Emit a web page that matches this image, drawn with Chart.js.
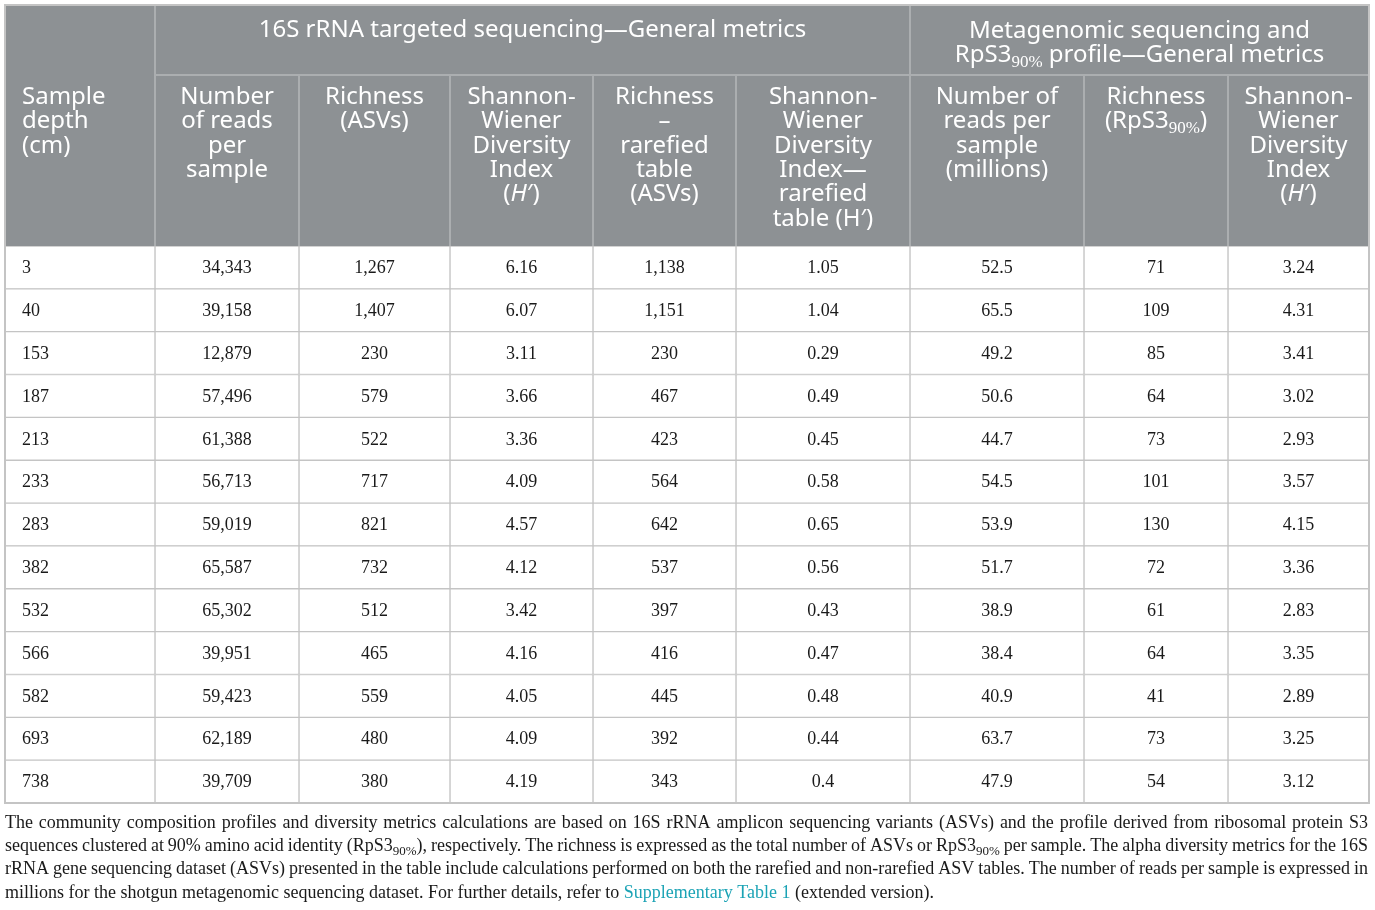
<!DOCTYPE html>
<html>
<head>
<meta charset="utf-8">
<script src="https://cdn.jsdelivr.net/npm/chart.js@4.4.1/dist/chart.umd.min.js"></script>
<style>
  html, body { margin: 0; padding: 0; background: #fff; }
  #wrap { width: 1375px; height: 910px; position: relative; }
</style>
</head>
<body>
<div id="wrap"><canvas id="tbl"></canvas></div>
<script>
// sample depth (cm) - one row each
const depths = ['3', '40', '153', '187', '213', '233', '283', '382', '532', '566', '582', '693', '738'];

// 16S rRNA targeted sequencing
const reads16S = [34343, 39158, 12879, 57496, 61388, 56713, 59019, 65587, 65302, 39951, 59423, 62189, 39709];
const richnessASV = [1267, 1407, 230, 579, 522, 717, 821, 732, 512, 465, 559, 480, 380];
const shannon16S = ['6.16', '6.07', '3.11', '3.66', '3.36', '4.09', '4.57', '4.12', '3.42', '4.16', '4.05', '4.09', '4.19'];
const richnessRare = [1138, 1151, 230, 467, 423, 564, 642, 537, 397, 416, 445, 392, 343];
const shannonRare = ['1.05', '1.04', '0.29', '0.49', '0.45', '0.58', '0.65', '0.56', '0.43', '0.47', '0.48', '0.44', '0.4'];

// metagenomic sequencing / RpS3 profile
const readsMeta = ['52.5', '65.5', '49.2', '50.6', '44.7', '54.5', '53.9', '51.7', '38.9', '38.4', '40.9', '63.7', '47.9'];
const richnessRps = [71, 109, 85, 64, 73, 101, 130, 72, 61, 64, 41, 73, 54];
const shannonMeta = ['3.24', '4.31', '3.41', '3.02', '2.93', '3.57', '4.15', '3.36', '2.83', '3.35', '2.89', '3.25', '3.12'];

// header labels (lines as set in the original), *x* = italic, _{x} = subscript
const colHeaders = [
  ['Sample', 'depth', '(cm)'],
  ['Number', 'of reads', 'per', 'sample'],
  ['Richness', '(ASVs)'],
  ['Shannon-', 'Wiener', 'Diversity', 'Index', '(*H*′)'],
  ['Richness', '–', 'rarefied', 'table', '(ASVs)'],
  ['Shannon-', 'Wiener', 'Diversity', 'Index—', 'rarefied', 'table (H′)'],
  ['Number of', 'reads per', 'sample', '(millions)'],
  ['Richness', '(RpS3_{90%})'],
  ['Shannon-', 'Wiener', 'Diversity', 'Index', '(*H*′)']
];
const groupHeaders = [
  { from: 1, to: 6, lines: ['16S rRNA targeted sequencing—General metrics'] },
  { from: 6, to: 9, lines: ['Metagenomic sequencing and', 'RpS3_{90%} profile—General metrics'] }
];

const footnote = [
  'The community composition profiles and diversity metrics calculations are based on 16S rRNA amplicon sequencing variants (ASVs) and the profile derived from ribosomal protein S3',
  'sequences clustered at 90% amino acid identity (RpS3_{90%}), respectively. The richness is expressed as the total number of ASVs or RpS3_{90%} per sample. The alpha diversity metrics for the 16S',
  'rRNA gene sequencing dataset (ASVs) presented in the table include calculations performed on both the rarefied and non-rarefied ASV tables. The number of reads per sample is expressed in',
  'millions for the shotgun metagenomic sequencing dataset. For further details, refer to ~Supplementary ~Table ~1 (extended version).'
];

// layout
const colEdges = [5, 155, 299, 450, 593, 736, 910, 1084, 1228, 1369];
const headTop = 5, headSplit = 75, headBottom = 246, tableBottom = 803;
const HEAD_BG = '#8d9194', HEAD_LINE = '#abaeb0', GRID = '#c4c4c4';
const SANS = '"Noto Sans", "Open Sans", sans-serif';
const SERIF = '"Liberation Serif", "DejaVu Serif", serif';

const fmt = (v) => (typeof v === 'number' ? v.toLocaleString('en-US') : v);
const columns = [depths, reads16S, richnessASV, shannon16S, richnessRare, shannonRare, readsMeta, richnessRps, shannonMeta];

// rich text: split into segments
function parseRich(str) {
  const parts = str.split(/(\*[^*]*\*|_\{[^}]*\})/).filter(s => s.length);
  return parts.map(p => {
    if (p[0] === '*') return { t: p.slice(1, -1), italic: true };
    if (p[0] === '_') return { t: p.slice(2, -1), sub: true };
    return { t: p };
  });
}
function segFont(seg, size, family) {
  if (seg.sub) return `${Math.round(size * 0.72)}px ${SERIF}`;
  return `${seg.italic ? 'italic ' : ''}${size}px ${family}`;
}
function richWidth(ctx, segs, size, family) {
  let w = 0;
  segs.forEach(s => { ctx.font = segFont(s, size, family); w += ctx.measureText(s.t).width; });
  return w;
}
function drawRich(ctx, str, x, y, size, family, align, color) {
  const segs = parseRich(str);
  const w = richWidth(ctx, segs, size, family);
  let cx = align === 'center' ? x - w / 2 : x;
  ctx.textAlign = 'left';
  ctx.textBaseline = 'middle';
  segs.forEach(s => {
    ctx.font = segFont(s, size, family);
    ctx.fillStyle = color;
    ctx.fillText(s.t, cx, s.sub ? y + size * 0.3 : y);
    cx += ctx.measureText(s.t).width;
  });
}
function footWords(line) {
  return line.split(' ').map(w => {
    const link = w[0] === '~';
    const segs = parseRich(link ? w.slice(1) : w);
    segs.forEach(s => { s.link = link; });
    return segs;
  });
}

const tablePlugin = {
  id: 'tablePlugin',
  beforeDatasetsDraw(chart) {
    const ctx = chart.ctx;
    const xs = chart.scales.x;
    const px = (e) => xs.getPixelForValue(e);
    ctx.save();
    // header block
    ctx.fillStyle = HEAD_BG;
    ctx.fillRect(px(colEdges[0]), headTop, px(colEdges[9]) - px(colEdges[0]), headBottom - headTop);
    ctx.strokeStyle = HEAD_LINE;
    ctx.lineWidth = 2;
    ctx.beginPath();
    ctx.moveTo(px(colEdges[1]), headSplit);
    ctx.lineTo(px(colEdges[9]), headSplit);
    colEdges.slice(1, 9).forEach((e, i) => {
      const full = (i + 1 === 1 || i + 1 === 6);
      ctx.moveTo(px(e), full ? headTop : headSplit);
      ctx.lineTo(px(e), headBottom);
    });
    ctx.stroke();
    ctx.restore();
  },
  afterDatasetsDraw(chart) {
    const ctx = chart.ctx;
    const xs = chart.scales.x;
    const px = (e) => xs.getPixelForValue(e);
    ctx.save();
    // outer border
    ctx.strokeStyle = GRID;
    ctx.lineWidth = 2;
    ctx.strokeRect(px(colEdges[0]), headTop, px(colEdges[9]) - px(colEdges[0]), tableBottom - headTop);

    // group headers
    groupHeaders.forEach(g => {
      const cx = (px(colEdges[g.from]) + px(colEdges[g.to])) / 2;
      const y0 = g.lines.length === 1 ? 30 : 31;
      g.lines.forEach((ln, k) => drawRich(ctx, ln, cx, y0 + k * 24, 24, SANS, 'center', '#ffffff'));
    });
    // column headers
    colHeaders.forEach((lines, c) => {
      const left = px(colEdges[c]), right = px(colEdges[c + 1]);
      lines.forEach((ln, k) => {
        const y = 97 + k * 24.4;
        if (c === 0) drawRich(ctx, ln, left + 17, y, 24, SANS, 'left', '#ffffff');
        else drawRich(ctx, ln, (left + right) / 2, y, 24, SANS, 'center', '#ffffff');
      });
    });

    // cell values, placed on each bar element
    chart.data.datasets.forEach((ds, c) => {
      const meta = chart.getDatasetMeta(c);
      meta.data.forEach((bar, r) => {
        const txt = fmt(columns[c][r]);
        ctx.font = `18px ${SERIF}`;
        ctx.fillStyle = '#1a1a1a';
        ctx.textBaseline = 'middle';
        if (c === 0) {
          ctx.textAlign = 'left';
          ctx.fillText(txt, px(colEdges[0]) + 17, bar.y + 1);
        } else {
          ctx.textAlign = 'center';
          ctx.fillText(txt, bar.base + (bar.x - bar.base) / 2, bar.y + 1);
        }
      });
    });

    // footnote, justified except last line; biggest size that fits every line
    const left = px(colEdges[0]), right = px(colEdges[9]) - 1;
    let fsize = 18.5;
    const fits = (sz) => footnote.slice(0, -1).every(line => {
      const words = footWords(line);
      ctx.font = `${sz}px ${SERIF}`;
      const sp = ctx.measureText(' ').width * 0.8;
      const w = words.reduce((a, segs) => a + richWidth(ctx, segs, sz, SERIF), 0) + sp * (words.length - 1);
      return w <= right - left;
    });
    while (fsize > 12 && !fits(fsize)) fsize -= 0.25;
    footnote.forEach((line, k) => {
      const y = 823 + k * 23.3;
      const words = footWords(line);
      const widths = words.map(segs => richWidth(ctx, segs, fsize, SERIF));
      const total = widths.reduce((a, b) => a + b, 0);
      ctx.font = `${fsize}px ${SERIF}`;
      const space = ctx.measureText(' ').width;
      const last = k === footnote.length - 1;
      const gap = last ? space : (right - left - total) / (words.length - 1);
      let x = left;
      words.forEach((segs) => {
        segs.forEach(s => {
          ctx.font = segFont(s, fsize, SERIF);
          ctx.fillStyle = s.link ? '#1ba3b5' : '#1a1a1a';
          ctx.textAlign = 'left';
          ctx.textBaseline = 'middle';
          ctx.fillText(s.t, x, s.sub ? y + fsize * 0.3 : y);
          x += ctx.measureText(s.t).width;
        });
        x += gap;
      });
    });
    ctx.restore();
  }
};

// each column is a dataset of floating bars spanning its cell edges
const datasets = columns.map((col, c) => ({
  label: 'col' + c,
  data: depths.map(() => [colEdges[c], colEdges[c + 1]]),
  backgroundColor: '#ffffff',
  borderColor: GRID,
  borderWidth: 1,
  borderSkipped: false,
  barPercentage: 1,
  categoryPercentage: 1,
  grouped: false
}));

new Chart(document.getElementById('tbl'), {
  type: 'bar',
  data: { labels: depths, datasets },
  options: {
    indexAxis: 'y',
    responsive: true,
    maintainAspectRatio: false,
    animation: false,
    events: [],
    layout: { padding: { left: 5, right: 1375 - colEdges[9], top: headBottom, bottom: 910 - tableBottom } },
    plugins: { legend: { display: false }, tooltip: { enabled: false } },
    scales: {
      x: { type: 'linear', min: colEdges[0], max: colEdges[9], display: false },
      y: { type: 'category', display: false, offset: true }
    }
  },
  plugins: [tablePlugin]
});
</script>
</body>
</html>
